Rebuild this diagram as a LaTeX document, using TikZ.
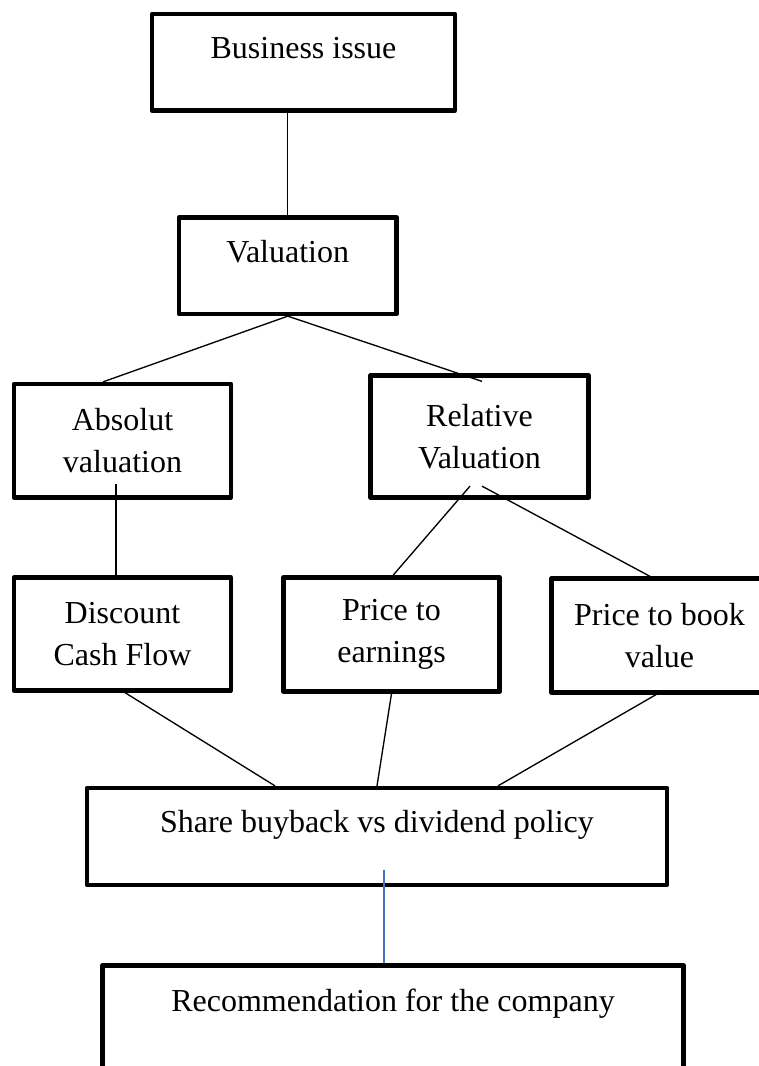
\documentclass[tikz,border=0pt]{standalone}
\usepackage{fontspec}
\setmainfont{Liberation Serif}
\usetikzlibrary{calc}
\definecolor{linkblue}{RGB}{68,114,196}
\begin{document}
\begin{tikzpicture}[x=0.75pt, y=-0.75pt,
		box/.style={draw, line width=3.2pt, line join=round, align=center, inner sep=0pt, font=\fontsize{24}{31.5}\selectfont},
		oneline/.style={box, text height=16.5pt, text depth=22pt},
		link/.style={line width=1pt}]
		\useasboundingbox (0,0) rectangle (758,1066);
		\node[oneline, minimum width=227.25pt, minimum height=72.4pt] (issue) at (303.5,62.25) {Business issue};
		\node[oneline, minimum width=163.1pt, minimum height=72.4pt] (val) at (287.75,265.75) {Valuation};
		\node[box, minimum width=162.75pt, minimum height=85.1pt] (abs) at (122.5,440.75) {Absolut\\valuation};
		\node[box, minimum width=163.5pt, minimum height=91.5pt] (rel) at (479.5,436.5) {Relative\\Valuation};
		\node[box, minimum width=162.75pt, minimum height=84.75pt] (dcf) at (122.5,634) {Discount\\Cash Flow};
		\node[box, minimum width=162pt, minimum height=85.5pt] (pe) at (391.5,634.5) {Price to\\earnings};
		\node[box, minimum width=162pt, minimum height=85.5pt] (pb) at (659.5,635.5) {Price to book\\value};
		\node[oneline, minimum width=435pt, minimum height=72.75pt] (share) at (377,836.5) {Share buyback vs dividend policy};
		\node[oneline, text depth=33pt, minimum width=435.75pt, minimum height=85.9pt] (rec) at (393,1022.75) {Recommendation for the company};

		\draw[link] (val.north |- issue.south) -- (val.north);
		\draw[link] (val.south) -- ($(abs.north)+(-19.5,0)$);
		\draw[link] (val.south) -- ($(rel.north)+(2.5,8)$);
		\draw[link] ($(abs.south)+(-6.5,-15.5)$) -- ($(dcf.north)+(-6.5,0)$);
		\draw[link] ($(rel.south)+(-9.5,-13.5)$) -- ($(pe.north)+(1.5,0)$);
		\draw[link] ($(rel.south)+(2.5,-13.5)$) -- ($(pb.north)+(-9.5,0)$);
		\draw[link] ($(dcf.south)+(2.5,0)$) -- ($(share.north)+(-102,0)$);
		\draw[link] (pe.south) -- (share.north);
		\draw[link] ($(pb.south)+(-3.5,0)$) -- ($(share.north)+(121,0)$);
		\draw[link, linkblue, line width=0.8pt] ($(share.south)+(7,-17)$) -- ($(rec.north)+(-9,0)$);
	\end{tikzpicture}
\end{document}
